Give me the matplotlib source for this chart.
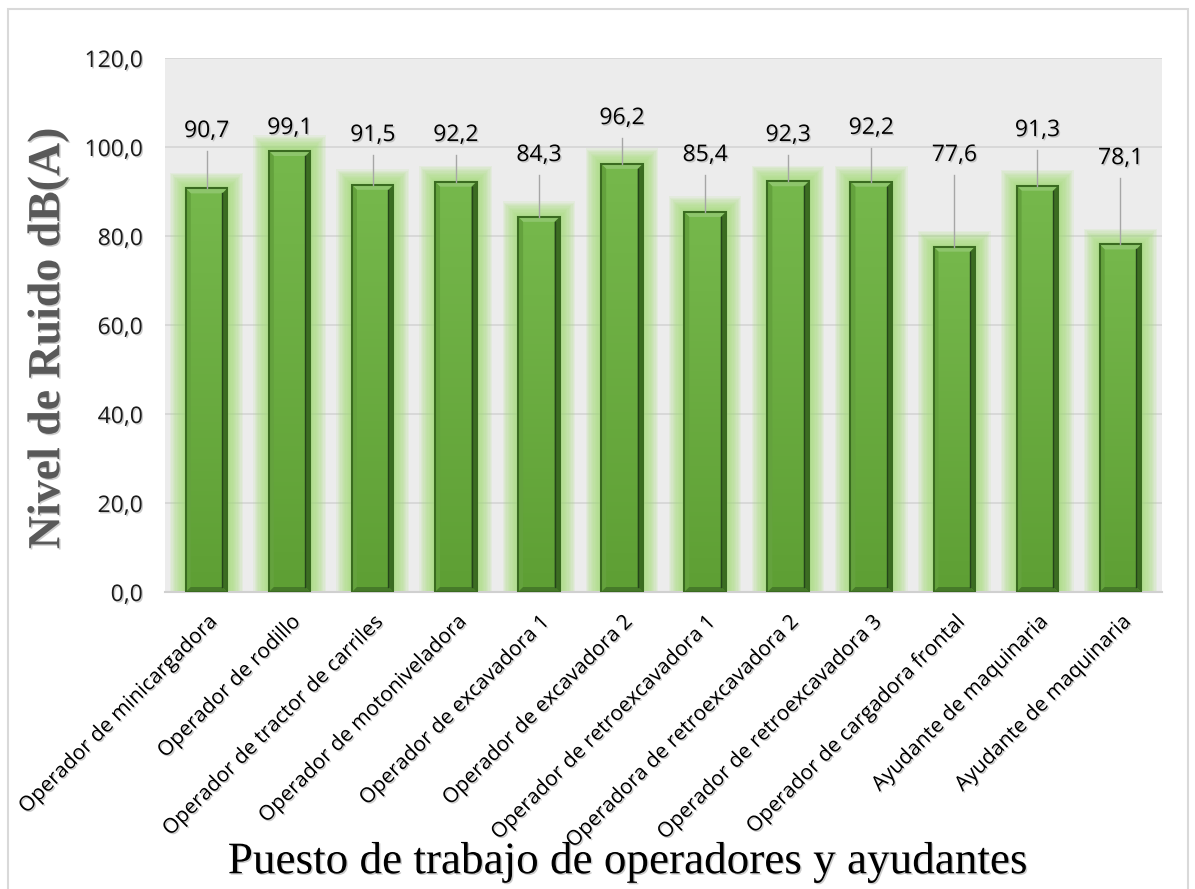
import numpy as np
import matplotlib
matplotlib.use("Agg")
import matplotlib.pyplot as plt
from matplotlib.patches import Rectangle, Polygon
import matplotlib.patheffects as pe

## datos
puestos = ["Operador de minicargadora", "Operador de rodillo",
           "Operador de tractor de carriles", "Operador de motoniveladora",
           "Operador de excavadora 1", "Operador de excavadora 2",
           "Operador de retroexcavadora 1", "Operadora de retroexcavadora 2",
           "Operador de retroexcavadora 3", "Operador de cargadora frontal",
           "Ayudante de maquinaria", "Ayudante de maquinaria"]
ruido = [90.7, 99.1, 91.5, 92.2, 84.3, 96.2, 85.4, 92.3, 92.2, 77.6, 91.3, 78.1]
yticks = [0, 20, 40, 60, 80, 100, 120]

## posicion de las etiquetas (como en el original de excel)
label_y = [103.6, 104.3, 102.7, 102.7, 98.2, 106.5, 98.2, 102.7, 104.3, 98.2, 103.8, 97.5]

W, H = 1195, 889
fig = plt.figure(figsize=(W / 100, H / 100), dpi=100)
ax = fig.add_axes([165 / W, 1 - 592 / H, (1162 - 165) / W, (592 - 58) / H])
ax.set_facecolor("#ececec")

x = np.arange(len(ruido))
ax.set_xlim(-0.5, len(ruido) - 0.5)
ax.set_ylim(0, 120)

## pixel -> unidades de datos
px_x = (len(ruido)) / (1162 - 165)
px_y = 120 / (592 - 58)

bw = 0.5
shadow = [pe.withSimplePatchShadow(offset=(1, -1), shadow_rgbFace="#9a9a9a", alpha=0.5)]

for xi, v in zip(x, ruido):
    # brillo verde alrededor
    for k in range(12, 0, -1):
        g = k * 1.3
        ax.add_patch(Rectangle((xi - bw / 2 - g * px_x, 0), bw + 2 * g * px_x, v + g * px_y,
                               facecolor="#a3dc78", edgecolor="none", alpha=0.12, zorder=1))
    # barra con degradado
    grad = np.linspace(0, 1, 100).reshape(-1, 1)
    cmap = matplotlib.colors.LinearSegmentedColormap.from_list("g", ["#5e9f34", "#76b84c"])
    ax.imshow(grad, extent=(xi - bw / 2, xi + bw / 2, 0, v), origin="lower",
              cmap=cmap, aspect="auto", zorder=2)
    x0, x1 = xi - bw / 2, xi + bw / 2
    bx, by = 5 * px_x, 5 * px_y
    # bisel
    ax.add_patch(Polygon([(x0, v), (x1, v), (x1 - bx, v - by), (x0 + bx, v - by)],
                         closed=True, facecolor="#8dc56b", edgecolor="none", zorder=3))
    ax.add_patch(Polygon([(x0, 0), (x0, v), (x0 + bx, v - by), (x0 + bx, by)],
                         closed=True, facecolor="#64a23d", edgecolor="none", zorder=3))
    ax.add_patch(Polygon([(x1, 0), (x1, v), (x1 - bx, v - by), (x1 - bx, by)],
                         closed=True, facecolor="#3c6d22", edgecolor="none", zorder=3))
    ax.add_patch(Polygon([(x0, 0), (x1, 0), (x1 - bx, by), (x0 + bx, by)],
                         closed=True, facecolor="#467a29", edgecolor="none", zorder=3))
    ax.plot([x1 - bx, x1 - bx], [by, v - by], color="#24441a", lw=1, zorder=4)
    ax.add_patch(Rectangle((x0, 0), bw, v, facecolor="none", edgecolor="#3a6b20",
                           lw=1.5, zorder=4))

## etiquetas de datos con lineas guia
for xi, v, ly in zip(x, ruido, label_y):
    top = ly - 4.5
    if top > v + 1:
        ax.plot([xi, xi], [v, top], color="#a6a6a6", lw=1, zorder=5)
    ax.text(xi, ly, f"{v:.1f}".replace(".", ","), ha="center", va="center",
            fontsize=16.5, family="Open Sans", color="black", zorder=6, path_effects=shadow)

ax.set_yticks(yticks)
ax.set_yticklabels([f"{t:.1f}".replace(".", ",") for t in yticks], family="Open Sans",
                   fontsize=16.5, color="#1a1a1a")
ax.set_xticks(x)
ax.set_xticklabels(puestos, rotation=45, ha="right", rotation_mode="anchor",
                   family="Open Sans", fontsize=15, color="black")
for lab in ax.get_yticklabels() + ax.get_xticklabels():
    lab.set_path_effects(shadow)
ax.tick_params(axis="y", length=0, pad=16)
ax.tick_params(axis="x", length=0, pad=14)
ax.yaxis.grid(True, color="#d4d4d4", lw=1.2)
ax.set_axisbelow(True)
for s in ["left", "right", "top"]:
    ax.spines[s].set_visible(False)
ax.spines["bottom"].set_color("#d0d0d0")
ax.spines["bottom"].set_linewidth(1.5)

fig.text(48 / W, 1 - 338 / H, "Nivel de Ruido dB(A)", rotation=90, ha="center", va="center",
         family="Liberation Serif", fontweight="bold", fontsize=33, color="#595959",
         path_effects=shadow)
fig.text(628 / W, 1 - 862 / H, "Puesto de trabajo de operadores y ayudantes", ha="center",
         va="center", family="Liberation Serif", fontsize=32.5, color="black", path_effects=shadow)

## marco exterior
fig.patches.append(Rectangle((8 / W, -0.01), (1188 - 8) / W, 1 - 9 / H + 0.01,
                             transform=fig.transFigure, facecolor="none",
                             edgecolor="#d9d9d9", lw=1.5))

fig.savefig("out.png", dpi=100)
